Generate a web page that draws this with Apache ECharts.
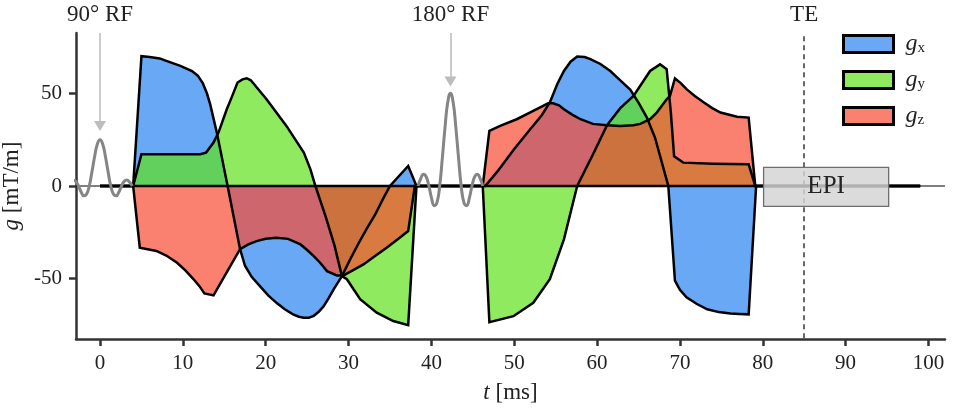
<!DOCTYPE html>
<html><head><meta charset="utf-8">
<script src="https://cdn.jsdelivr.net/npm/echarts@6/dist/echarts.min.js"></script>
<style>html,body{margin:0;padding:0;background:#fff}#c{width:953px;height:409px}</style>
</head><body><div id="c"></div>
<script>
// ---- data ----
const xTicks = [0,10,20,30,40,50,60,70,80,90,100];
const yTicks = [-50,0,50];

const gxT = [0,4.0,5.0,6.0,7.2,8.0,9.7,11.1,11.8,12.4,12.9,13.3,14.1,15.4,16.9,17.5,18.3,19.3,20.3,21.3,22.3,23.3,24.0,24.6,25.2,25.8,26.4,27.0,27.6,28.2,29.2,30.2,31.2,32.2,33.2,34.1,35.0,37.2,38.2,46.5,48.0,50.0,52.0,53.3,54.3,55.2,56.0,56.8,57.6,58.5,59.2,60.4,61.6,62.8,64.0,65.0,66.0,67.0,67.8,68.6,69.4,70.0,70.8,72.0,73.3,74.7,76.1,77.2,78.3,79.2,99];
const gxG = [0,0,70,69.6,68.8,67.5,64.8,62,59.5,55.5,50,44,28.8,0,-34,-43,-49,-54,-59,-63,-66.5,-69.2,-70.5,-71,-71,-70,-67.8,-64.8,-60.5,-55.7,-48.6,-39.5,-31,-23,-15.5,-7.5,0,10.8,0,0,8,20,31,38,45,55,62,67,69.8,69.5,68.4,65.8,62,57,52,45,37,26,13,0,-51,-56,-60,-63.5,-66.5,-68,-68.7,-69,-69.2,0,0];

const gyT = [0,4.0,5.0,8.0,12.1,12.8,13.7,14.3,15.3,16.0,16.6,17.2,17.7,18.2,20.1,22.5,24.6,25.4,26.0,27.2,28.3,29.2,29.8,31.4,33.4,35.4,37.2,38.2,46.2,47.0,49.9,52.3,54.3,56.0,57.6,59.5,61.2,62.8,64.4,66.4,67.6,68.4,68.9,69.3,70.4,74.0,78.3,79.1,99];
const gyG = [0,0,17.1,17.1,17.1,18,23.4,28.8,41.4,49,55.8,57.5,58.1,57,46.8,32.4,18,9,0,-16,-32,-48.6,-50.3,-61,-68.3,-72.8,-75,0,0,-73.4,-70.2,-63,-50.3,-28.8,0,17,32.8,42,48.6,62,65.6,63,40,16,12.6,12,11.7,0,0];

const gzT = [0,4.0,4.8,6.8,8.0,9.3,10.3,11.3,12.0,12.6,13.7,16.9,17.9,18.9,20.0,21.3,22.7,24.2,25.0,25.8,26.6,27.4,28.6,29.4,30.5,31.8,33.2,34.6,35.9,37.2,38.0,46.2,47.0,48.3,50.3,52.3,54.1,54.7,55.4,56.0,57.0,58.0,59.5,61.2,62.8,64.4,65.2,66.4,67.2,68.4,68.8,69.4,70.1,70.8,71.8,72.9,73.9,74.9,76.9,78.3,79.1,99];
const gzG = [0,0,-33.3,-35,-37.5,-41.4,-45.5,-50.3,-54,-57.9,-59,-34,-31.5,-29.7,-28.5,-27.9,-28.5,-31.5,-34.5,-37.8,-41.5,-45.9,-48.2,-48.2,-45.5,-42.3,-37.8,-33.3,-28.8,-24.3,0,0,29.7,32.4,36,40.5,44.6,44.6,43.5,41.4,38.5,36,33.5,32.8,32.4,32.8,33.5,36,39.6,46.8,48.6,58,55.5,52.2,48.5,45,42,39.6,37.4,36.9,0,0];

const rf90T = [-3.9,-3.58,-3.25,-2.93,-2.6,-2.28,-1.95,-1.63,-1.3,-0.98,-0.65,-0.33,0,0.33,0.65,0.98,1.3,1.63,1.95,2.28,2.6,2.93,3.25,3.58,3.9];
const rf90G = [0,2.0,3.2,2.5,0,-3.2,-5.3,-4.5,0,7.5,15.9,22.5,25,22.5,15.9,7.5,0,-4.5,-5.3,-3.2,0,2.5,3.2,2.0,0];
const rf180T = [38.4,38.72,39.05,39.37,39.7,40.02,40.35,40.67,41.0,41.32,41.65,41.97,42.3,42.63,42.95,43.28,43.6,43.93,44.25,44.58,44.9,45.23,45.55,45.88,46.2];
const rf180G = [0,4.1,6.4,5,0,-6.5,-10.6,-9,0,15,31.8,45,50,45,31.8,15,0,-9,-10.6,-6.5,0,5,6.4,4.1,0];

const rfLabels = ['90° RF','180° RF'];
const rfCenters = [0, 42.3];
const rfArrowEnds = [32.4, 56.3];
const teTime = 85;
const epiSpan = [80.1, 95.2];
const epiLevels = [-11, 10];
const baseSpan = [0, 99];
const seriesNames = ['gx','gy','gz'];

// ---- chart ----
const FONT = "'Liberation Serif','DejaVu Serif',serif";
const X_MIN = -2.9, X_MAX = 102, Y_MIN = -82.5, Y_MAX = 82.5;
const zip = (a,b) => a.map((v,i)=>[v,b[i]]);
const seenCol = ['#6aa8f5','#90ea60','#fa8070'];
const pureCol = ['rgb(42,131,241)','rgb(96,225,28)','rgb(248,74,51)'];
const gradData = [zip(gxT,gxG), zip(gyT,gyG), zip(gzT,gzG)];

const chart = echarts.init(document.getElementById('c'), null, {renderer:'canvas'});

const gradSeries = gradData.map((d,i)=>({
  type:'line', name: seriesNames[i], data:d, symbol:'none', silent:true, z:2,
  lineStyle:{color:'#000', width:2.5, join:'miter', miterLimit:3},
  itemStyle:{color:seenCol[i]},
  areaStyle:{color:pureCol[i], opacity:0.7, origin:0},
  emphasis:{disabled:true}
}));

const option = {
  animation:false,
  backgroundColor:'#fff',
  grid:{left:76, right:8, top:33, bottom:70, containLabel:false, outerBoundsMode:'none'},
  xAxis:{
    type:'value', min:X_MIN, max:X_MAX,
    name:'{i|t} [ms]', nameLocation:'middle', nameGap:42,
    nameTextStyle:{fontFamily:FONT, fontSize:23, color:'#222',
      rich:{i:{fontFamily:FONT, fontSize:23, fontStyle:'italic', color:'#222'}}},
    axisLine:{show:true, onZero:false, lineStyle:{color:'#333', width:2.5}},
    axisTick:{show:true, length:7, lineStyle:{color:'#333', width:2.5}, customValues:xTicks},
    axisLabel:{fontFamily:FONT, fontSize:21, color:'#222', margin:14, customValues:xTicks},
    splitLine:{show:false}
  },
  yAxis:{
    type:'value', min:Y_MIN, max:Y_MAX,
    name:'{i|g} [mT/m]', nameLocation:'middle', nameGap:43, nameRotate:90,
    nameTextStyle:{fontFamily:FONT, fontSize:23, color:'#222',
      rich:{i:{fontFamily:FONT, fontSize:23, fontStyle:'italic', color:'#222'}}},
    axisLine:{show:true, onZero:false, lineStyle:{color:'#333', width:2.5}},
    axisTick:{show:true, length:7, lineStyle:{color:'#333', width:2.5}, customValues:yTicks},
    axisLabel:{fontFamily:FONT, fontSize:21, color:'#222', margin:14, customValues:yTicks},
    splitLine:{show:false}
  },
  legend:{
    orient:'vertical', left:837, top:27, itemWidth:50, itemHeight:17, itemGap:12,
    selectedMode:false, icon:'rect',
    data: seriesNames.map((n,i)=>({name:n, itemStyle:{color:seenCol[i], borderColor:'#000', borderWidth:3}})),
    formatter: n => '{g|g}{s|' + n.slice(1) + '}',
    textStyle:{fontFamily:FONT, color:'#222', fontSize:22,
      rich:{
        g:{fontFamily:FONT, fontStyle:'italic', fontSize:24, color:'#222', padding:[0,0,0,7]},
        s:{fontFamily:FONT, fontSize:15, color:'#222', verticalAlign:'bottom', padding:[0,0,0,0]}
      }}
  },
  series:[
    {type:'line', name:'axh', data:[[X_MIN,0],[X_MAX,0]], symbol:'none', silent:true, z:1,
     lineStyle:{color:'#000', width:1}},
    ...gradSeries,
    {type:'line', name:'base', data:[[baseSpan[0],0],[baseSpan[1],0]], symbol:'none', silent:true, z:3,
     lineStyle:{color:'#000', width:2.5}},
    {type:'line', name:'rf90', data:zip(rf90T,rf90G), symbol:'none', smooth:true, silent:true, z:4,
     lineStyle:{color:'#858585', width:3}},
    {type:'line', name:'rf180', data:zip(rf180T,rf180G), symbol:'none', smooth:true, silent:true, z:4,
     lineStyle:{color:'#858585', width:3}},
    {type:'line', name:'marks', data:[], symbol:'none', silent:true, z:5,
     markLine:{
       silent:true, animation:false, label:{show:false}, emphasis:{disabled:true},
       data:[
         [{coord:[rfCenters[0], Y_MAX], symbol:'none', lineStyle:{color:'#bdbdbd', width:1.6, type:'solid'}},
          {coord:[rfCenters[0], rfArrowEnds[0]], symbol:'triangle', symbolSize:[12,10]}],
         [{coord:[rfCenters[1], Y_MAX], symbol:'none', lineStyle:{color:'#bdbdbd', width:1.6, type:'solid'}},
          {coord:[rfCenters[1], rfArrowEnds[1]], symbol:'triangle', symbolSize:[12,10]}],
         [{coord:[teTime, 80.8], symbol:'none', lineStyle:{color:'#444', width:1.6, type:[5,4]}},
          {coord:[teTime, Y_MIN], symbol:'none'}]
       ]
     }},
    {type:'custom', name:'epi', silent:true, z:6,
     data:[[epiSpan[0], epiSpan[1], epiLevels[0], epiLevels[1]]],
     renderItem:(params, api)=>{
       const p1 = api.coord([api.value(0), api.value(3)]);
       const p2 = api.coord([api.value(1), api.value(2)]);
       return {type:'group', children:[
         {type:'rect', shape:{x:p1[0], y:p1[1], width:p2[0]-p1[0], height:p2[1]-p1[1]},
          style:{fill:'rgba(212,212,212,0.83)', stroke:'#6e6e6e', lineWidth:1.3}},
         {type:'text', x:(p1[0]+p2[0])/2, y:(p1[1]+p2[1])/2,
          style:{text:'EPI', fontFamily:FONT, fontSize:25, fill:'#222', align:'center', verticalAlign:'middle'}}
       ]};
     }}
  ]
};
chart.setOption(option);

const labelY = 92.5;
const texts = [
  {t:rfLabels[0], x:rfCenters[0]},
  {t:rfLabels[1], x:rfCenters[1]},
  {t:'TE', x:teTime}
].map(o=>{
  const p = chart.convertToPixel({gridIndex:0}, [o.x, labelY]);
  return {type:'text', x:p[0], y:p[1], silent:true,
    style:{text:o.t, fontFamily:FONT, fontSize:23, fill:'#222', align:'center', verticalAlign:'middle'}};
});
chart.setOption({graphic:texts});
</script></body></html>
